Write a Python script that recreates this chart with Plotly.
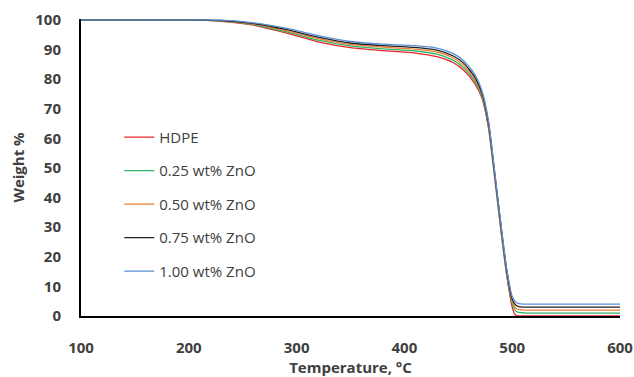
import plotly.graph_objects as go

temperature = [100, 200, 230, 260, 290, 320, 350, 380, 410, 430, 445, 455, 465, 472, 478, 484, 490, 495, 500, 503, 506, 510, 515, 600]

hdpe   = [100, 100, 99.5, 98.2, 95.6, 92.6, 90.6, 89.6, 88.8, 87.6, 85.6, 83.0, 78.6, 73.5, 63.5, 46.0, 27.5, 13.5, 3.0, 0.3, 0.0, 0.0, 0.0, 0.0]
zno025 = [100, 100, 99.6, 98.4, 96.0, 93.2, 91.2, 90.2, 89.5, 88.4, 86.4, 83.8, 79.4, 74.0, 64.0, 46.5, 28.0, 14.0, 4.0, 1.8, 1.2, 1.1, 1.0, 1.0]
zno050 = [100, 100, 99.7, 98.6, 96.4, 93.7, 91.7, 90.8, 90.1, 89.1, 87.2, 84.6, 80.1, 74.6, 64.6, 47.0, 28.6, 14.6, 4.8, 2.8, 2.2, 2.0, 2.0, 2.0]
zno075 = [100, 100, 99.8, 98.8, 96.8, 94.2, 92.2, 91.3, 90.7, 89.8, 87.9, 85.4, 80.9, 75.2, 65.2, 47.5, 29.2, 15.2, 5.7, 3.8, 3.2, 3.0, 3.0, 3.0]
zno100 = [100, 100, 99.9, 99.0, 97.2, 94.7, 92.7, 91.8, 91.3, 90.5, 88.7, 86.2, 81.8, 76.0, 66.0, 48.0, 29.8, 15.8, 6.6, 4.8, 4.2, 4.0, 4.0, 4.0]

names = ["HDPE", "0.25 wt% ZnO", "0.50 wt% ZnO", "0.75 wt% ZnO", "1.00 wt% ZnO"]
colors = ["#E8262A", "#2DB36A", "#ED7D31", "#222222", "#5B8FD6"]
series = [hdpe, zno025, zno050, zno075, zno100]

fig = go.Figure()
for i, (n, c, s) in enumerate(zip(names, colors, series)):
    fig.add_trace(go.Scatter(
        x=temperature, y=s, mode="lines", name=n,
        line=dict(color=c, width=1.3, shape="spline", smoothing=0.6),
        legendgroup=str(i),
    ))

tick_font = dict(size=15, color="#404040", family="Open Sans, sans-serif", weight="bold")

fig.update_layout(
    width=634, height=377,
    margin=dict(l=81, r=14, t=19, b=61),
    paper_bgcolor="white", plot_bgcolor="white",
    font=dict(family="Open Sans, Liberation Sans, sans-serif", color="#404040"),
    showlegend=True,
    legend=dict(
        x=0.071, y=0.657, xanchor="left", yanchor="top",
        bgcolor="rgba(0,0,0,0)", traceorder="grouped", tracegroupgap=11,
        font=dict(size=15, color="#404040"),
        itemwidth=30,
    ),
    xaxis=dict(
        range=[100, 600], tickvals=[100, 200, 300, 400, 500, 600],
        showgrid=False, zeroline=False, showline=True, linecolor="black", linewidth=2,
        ticks="", ticklabelstandoff=17, automargin=False,
        tickfont=tick_font,
        title=dict(text="<b>Temperature, °C</b>", font=dict(size=15, color="#404040"), standoff=2),
    ),
    yaxis=dict(
        range=[0, 100.3], tickvals=list(range(0, 101, 10)),
        showgrid=False, zeroline=False, showline=True, linecolor="black", linewidth=2,
        ticks="", ticklabelstandoff=15, automargin=False,
        tickfont=tick_font,
        title=dict(text="<b>Weight %</b>", font=dict(size=15, color="#404040"), standoff=7),
    ),
)

fig.write_html("out.html")
